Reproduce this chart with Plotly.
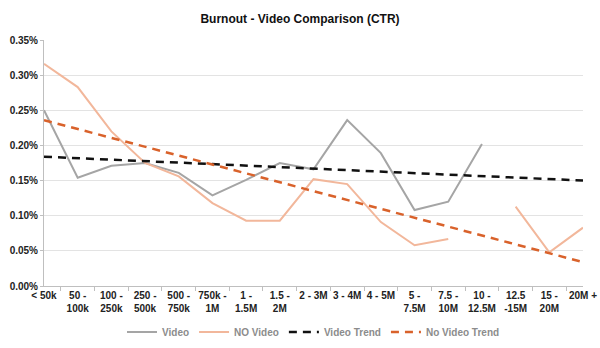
import plotly.graph_objects as go

categories = ["< 50k", "50 -<br>100k", "100 -<br>250k", "250 -<br>500k", "500 -<br>750k",
              "750k -<br>1M", "1 -<br>1.5M", "1.5 -<br>2M", "2 - 3M", "3 - 4M", "4 - 5M",
              "5 -<br>7.5M", "7.5 -<br>10M", "10 -<br>12.5M", "12.5<br>-15M", "15 -<br>20M", "20M +"]

video = [0.250, 0.154, 0.171, 0.175, 0.161, 0.129, 0.151, 0.175, 0.166, 0.236, 0.189,
         0.108, 0.120, 0.202, None, None, None]
no_video = [0.316, 0.283, 0.220, 0.175, 0.156, 0.118, 0.093, 0.093, 0.152, 0.145, 0.091,
            0.058, 0.067, None, 0.113, 0.048, 0.083]

video_trend = [0.184, 0.150]      # start / end values (first and last category)
no_video_trend = [0.236, 0.034]

trend_x = [categories[0], categories[-1]]
tick_text = ["<br>".join("<b>" + part + "</b>" for part in c.split("<br>")) for c in categories]

fig = go.Figure()
fig.add_trace(go.Scatter(x=categories, y=video, mode="lines", name="<b>Video</b>",
                         line=dict(color="#A5A5A5", width=2), connectgaps=False))
fig.add_trace(go.Scatter(x=categories, y=no_video, mode="lines", name="<b>NO Video</b>",
                         line=dict(color="#F2B79B", width=2), connectgaps=False))
fig.add_trace(go.Scatter(x=trend_x, y=video_trend, mode="lines", name="<b>Video Trend</b>",
                         line=dict(color="#111111", width=2.5, dash="8px,6px")))
fig.add_trace(go.Scatter(x=trend_x, y=no_video_trend, mode="lines", name="<b>No Video Trend</b>",
                         line=dict(color="#D9622B", width=2.5, dash="8px,6px")))

fig.update_layout(
    width=600, height=348,
    margin=dict(l=44, r=17, t=40, b=62, autoexpand=False),
    paper_bgcolor="white", plot_bgcolor="white",
    font=dict(family="Liberation Sans, Arial, sans-serif", size=10, color="#222222"),
    title=dict(text="<b>Burnout - Video Comparison (CTR)</b>", x=0.5, xanchor="center",
               y=0.945, yanchor="middle", font=dict(size=12, color="#111111")),
    showlegend=True,
    legend=dict(orientation="h", x=0.5, xanchor="center", yref="container", y=0.046,
                yanchor="middle", font=dict(size=10, color="#8C8C8C"), itemwidth=30,
                tracegroupgap=0),
    xaxis=dict(type="category", showgrid=False, showline=True, linecolor="#BFBFBF",
               ticks="outside", tickson="boundaries", ticklen=4, tickcolor="#BFBFBF",
               tickmode="array", tickvals=categories, ticktext=tick_text,
               tickfont=dict(size=10, color="#222222"), tickangle=0, automargin=False),
    yaxis=dict(range=[0, 0.35], dtick=0.05, tickformat=".2f", ticksuffix="%",
               showgrid=True, gridcolor="#E3E3E3", showline=True, linecolor="#BFBFBF",
               ticks="outside", ticklen=3, tickcolor="#BFBFBF", zeroline=False,
               automargin=False, tickprefix="<b>",
               tickfont=dict(size=10, color="#222222")),
)

fig.write_html("out.html")
